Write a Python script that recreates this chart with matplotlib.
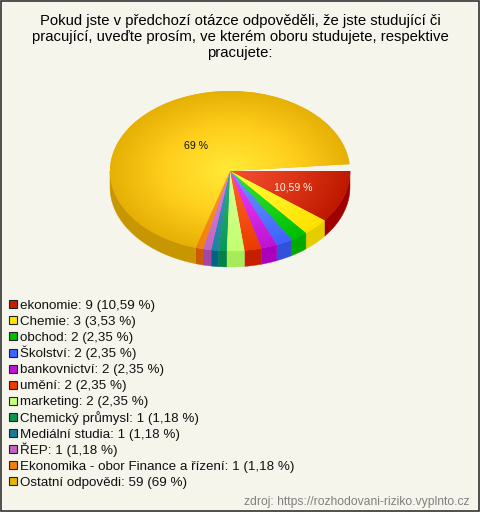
import numpy as np
import matplotlib
matplotlib.use("Agg")
import matplotlib.pyplot as plt
from matplotlib.colors import LinearSegmentedColormap
from matplotlib.patches import Rectangle, Polygon

plt.rcParams['font.family'] = ['Liberation Sans', 'DejaVu Sans']

TITLE = ["Pokud jste v předchozí otázce odpověděli, že jste studující či",
         "pracující, uveďte prosím, ve kterém oboru studujete, respektive",
         "pracujete:"]
categories = ["ekonomie", "Chemie", "obchod", "Školství", "bankovnictví", "umění",
              "marketing", "Chemický průmysl", "Mediální studia", "ŘEP",
              "Ekonomika - obor Finance a řízení", "Ostatní odpovědi"]
counts = [9, 3, 2, 2, 2, 2, 2, 1, 1, 1, 1, 59]
pct_labels = ["10,59", "3,53", "2,35", "2,35", "2,35", "2,35", "2,35",
              "1,18", "1,18", "1,18", "1,18", "69"]
# slice shares as drawn in the picture (fraction of the full circle; they leave a gap)
drawn_shares = [0.1058, 0.0352, 0.0231, 0.0222, 0.0217, 0.0228, 0.0236,
                0.0111, 0.0097, 0.0111, 0.0100, 0.69]
center_cols = ["#F55032", "#FFFF3C", "#32E63C", "#6E96FF", "#F03CFF", "#FF6428",
               "#D7FF96", "#28B46E", "#3C96B4", "#D782E6", "#FF9628", "#FFEB37"]
mid_cols = ["#DC3416", "#FFF01E", "#19D21E", "#557DFF", "#D728E8", "#F55014",
            "#CDFF82", "#19A564", "#2D8CAA", "#CD73D2", "#F88C19", "#FFCE1C"]
rim_cols = ["#BE1900", "#FFE100", "#00BE00", "#3C64FF", "#BE14D2", "#EB3C00",
            "#C3FF6E", "#0A965A", "#1E82A0", "#C364BE", "#F0820A", "#E6B005"]
side_cols = ["#A00000", "#E6CD00", "#00AA00", "#3250DC", "#AA00BE", "#C81E00",
             "#A5EB5A", "#008246", "#006482", "#A546A5", "#CD5A00", "#C89600"]
legend_cols = ["#C81E00", "#FFE600", "#00BE00", "#3C64FF", "#BE14D2", "#EB3C00",
               "#C8FF78", "#0A9650", "#1E7896", "#C364BE", "#F0820A", "#E6B408"]

W, H = 480, 512
BG = "#F5F5EC"
fig = plt.figure(figsize=(W / 100, H / 100), dpi=100, facecolor=BG)

# pixel overlay
ov = fig.add_axes([0, 0, 1, 1], zorder=3)
ov.set_xlim(0, W); ov.set_ylim(H, 0); ov.axis("off"); ov.patch.set_alpha(0)

# pie: ellipse spanning x 110..350, y 91..251
cx, cy, rx, ry, depth = 230, 171, 120, 80, 16
ax = fig.add_axes([(cx - rx) / W, 1 - (cy + ry) / H, 2 * rx / W, 2 * ry / H], zorder=1)
wedges, _ = ax.pie(drawn_shares, colors=rim_cols, startangle=0, counterclock=False,
                   normalize=False, radius=1, center=(0, 0))
ax.set_aspect("auto")
ax.set_xlim(-1, 1); ax.set_ylim(-1, 1)
ax.patch.set_alpha(0)
d = depth / ry

# side band: the part of each slice's rim on the lower half of the ellipse
for w, col in zip(wedges, side_cols):
    a0 = w.theta1 % 360
    a1 = a0 + (w.theta2 - w.theta1)
    lo, hi = max(a0, 180), min(a1, 360)
    if hi > lo:
        t = np.radians(np.linspace(lo, hi, 80))
        xs, ys = np.cos(t), np.sin(t)
        pts = np.r_[np.c_[xs, ys], np.c_[xs[::-1], ys[::-1] - d]]
        ax.add_patch(Polygon(pts, closed=True, fc=col, ec=col, lw=0.3, clip_on=False, zorder=1))

# radial gradient on top face
yy, xx = np.mgrid[-1:1:400j, -1:1:400j]
rr = np.clip(np.hypot(xx, yy), 0, 1)
for w, c0, cm, c1 in zip(wedges, center_cols, mid_cols, rim_cols):
    w.set_zorder(2)
    cmap = LinearSegmentedColormap.from_list("g", [(0, c0), (0.55, cm), (1, c1)])
    im = ax.imshow(rr, cmap=cmap, vmin=0, vmax=1, extent=(-1, 1, -1, 1), origin="lower",
                   aspect="auto", zorder=3, interpolation="bilinear")
    im.set_clip_path(w)
ax.set_xlim(-1, 1); ax.set_ylim(-1, 1)

ov.text(196, 149, "69 %", fontsize=7.6, color="#111111", ha="center", va="baseline")
ov.text(293, 190, "10,59 %", fontsize=7.6, color="#FFF5E6", ha="center", va="baseline")

for i, line in enumerate(TITLE):
    ov.text(240, 25 + 16 * i, line, fontsize=10.7, color="#000000", ha="center", va="baseline")

y0, step = 304.3, 16.08
for i, (cat, n, p, col) in enumerate(zip(categories, counts, pct_labels, legend_cols)):
    y = y0 + i * step
    ov.add_patch(Rectangle((9, y - 4), 8, 8, fc=col, ec="#222222", lw=0.8))
    ov.text(20, y + 4.7, f"{cat}: {n} ({p} %)", fontsize=9.6, color="#111111", ha="left", va="baseline")

ov.text(470, 505, "zdroj: https://rozhodovani-riziko.vyplnto.cz", fontsize=8.75,
        color="#808080", ha="right", va="baseline")

# image frame
ov.add_patch(Rectangle((0.5, 0.5), W - 2, H - 2, fc="none", ec="#222222", lw=1.1))

fig.savefig("out.png", dpi=100, facecolor=BG)
